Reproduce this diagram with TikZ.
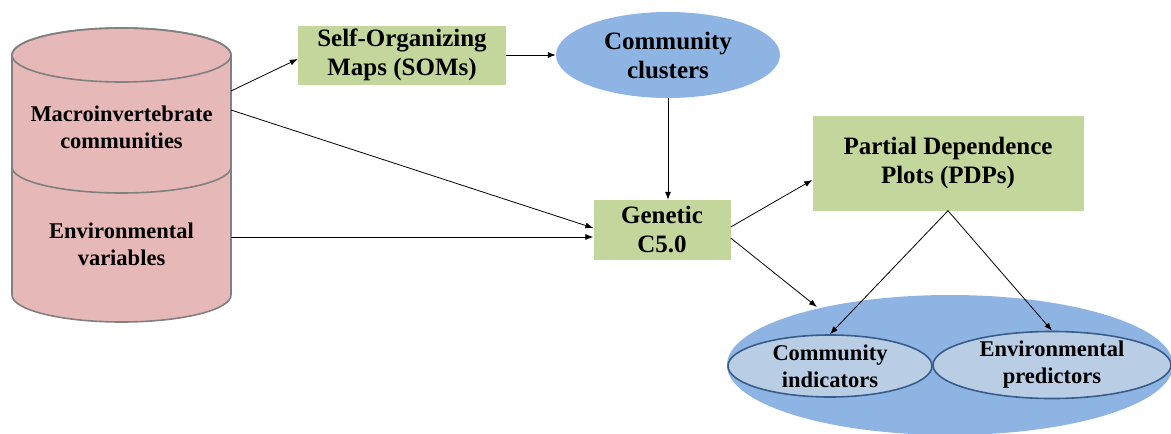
\documentclass[tikz,border=0pt]{standalone}
\usepackage{fontspec}
\setmainfont{Liberation Serif}
\usetikzlibrary{arrows.meta,shapes.geometric,positioning}
\definecolor{cylfill}{HTML}{E6B9B8}
\definecolor{cylline}{HTML}{808080}
\definecolor{boxfill}{HTML}{C3D69B}
\definecolor{clufill}{HTML}{8EB4E3}
\definecolor{subfill}{HTML}{B9CDE5}
\definecolor{subline}{HTML}{385D8A}
\tikzset{
  lbl/.style={
    font=\fontsize{22.5}{27}\selectfont\bfseries,
    align=center,
    inner sep=0pt
  },
  biglbl/.style={
    font=\fontsize{25}{29}\selectfont\bfseries,
    align=center,
    inner sep=0pt
  },
  method/.style={
    biglbl,
    shape=rectangle,
    fill=boxfill
  },
  cluster/.style={
    biglbl,
    shape=ellipse,
    fill=clufill
  },
  result/.style={
    lbl,
    shape=ellipse,
    fill=subfill,
    draw=subline,
    line width=1.6pt
  },
  flow/.style={
    -{Latex[length=8pt,width=6pt]},
    line width=0.8pt
  },
}
\begin{document}
\begin{tikzpicture}[x=1pt,y=-1pt]
\useasboundingbox (0,0) rectangle (1171,434);
% data cylinder
\draw[fill=cylfill, draw=cylline, line width=1.6pt]
  (12,55) -- (12,295) arc[start angle=180, end angle=0, x radius=109.5, y radius=27]
  -- (231,55) arc[start angle=0, end angle=-180, x radius=109.5, y radius=27] -- cycle;
\draw[draw=cylline, line width=1.6pt] (121.5,55) ellipse[x radius=109.5, y radius=27];
\draw[draw=cylline, line width=1.6pt]
  (12,167) arc[start angle=180, end angle=0, x radius=109.5, y radius=26];
\node[lbl] (macro) at (121.5,127) {Macroinvertebrate\\communities};
\node[lbl] (env) at (121.5,244) {Environmental\\variables};
\coordinate (macroA) at (231,91);
\coordinate (macroB) at (231,110);
\coordinate (envA) at (231,237);
% methods
\node[method, minimum width=208pt, minimum height=59pt] (som) at (402,55) {Self-Organizing\\Maps (SOMs)};
\node[cluster, minimum width=224pt, minimum height=86pt] (clu) at (668,55) {Community\\clusters};
\node[method, minimum width=137pt, minimum height=60pt] (gen) at (662,230) {Genetic\\C5.0};
\node[method, minimum width=271pt, minimum height=95pt] (pdp) at (948,163) {Partial Dependence\\Plots (PDPs)};
% results
\node[shape=ellipse, fill=clufill, minimum width=446pt, minimum height=140pt] (res) at (950,365) {};
\node[result, minimum width=204pt, minimum height=62pt] (ind) at (830,366) {Community\\indicators};
\node[result, minimum width=238pt, minimum height=64pt] (pred) at (1052,365) {Environmental\\predictors};
\coordinate (resin) at (817,307);
% connectors
\draw[flow] (macroA) -- (som.west |- 0,59);
\draw[flow] (macroB) -- (gen.west |- 0,228);
\draw[flow] (envA) -- (gen.west |- 0,237);
\draw[flow] (som) -- (clu);
\draw[flow] (clu.south) -- (clu.south |- gen.north);
\draw[flow] (gen.east |- 0,227) -- (pdp.west |- 0,180);
\draw[flow] (gen.east |- 0,238) -- (resin);
\draw[flow] (pdp.south) -- (ind.north);
\draw[flow] (pdp.south) -- (pred.north);
\end{tikzpicture}
\end{document}
